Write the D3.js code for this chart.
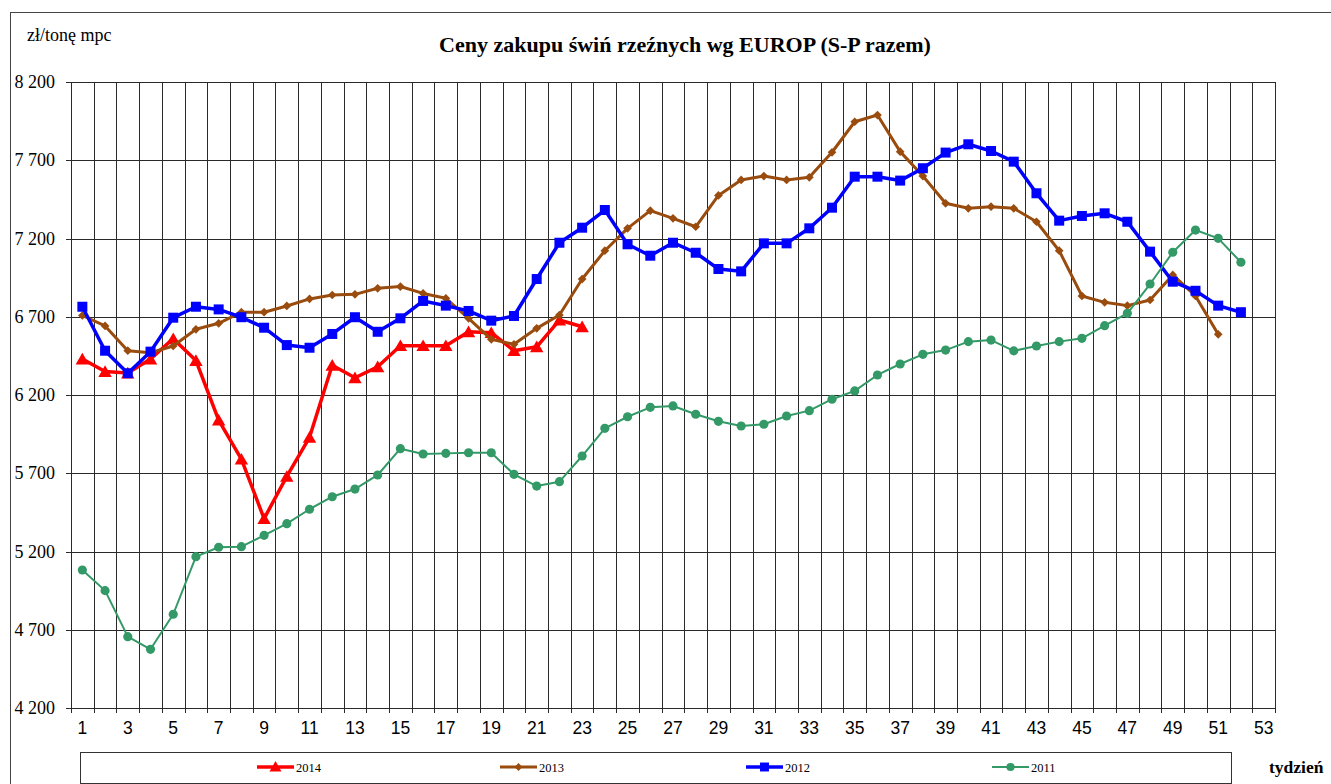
<!DOCTYPE html>
<html><head><meta charset="utf-8">
<script src="https://cdn.jsdelivr.net/npm/d3@7"></script>
<style>body{margin:0;background:#fff}svg{display:block}</style>
</head><body><svg id="c" width="1331" height="784"></svg>
<script>
// ---- data ----
const weeks = d3.range(1, 54);                 // categories 1..53
const xTickLabels = weeks.filter(w => w % 2 === 1);
const yTicks = [4200, 4700, 5200, 5700, 6200, 6700, 7200, 7700, 8200];
const seriesNames = ["2014", "2013", "2012", "2011"];
const s2014 = [6430, 6350, 6340, 6430, 6560, 6420, 6040, 5790, 5410, 5680, 5930, 6390, 6310, 6380,
  6515, 6515, 6515, 6604, 6598, 6483, 6508, 6679, 6636];
const s2013 = [6708, 6641, 6483, 6470, 6513, 6620, 6658, 6729, 6729, 6769, 6814, 6839, 6843, 6882,
  6893, 6849, 6818, 6690, 6556, 6524, 6626, 6711, 6941, 7122, 7265, 7378, 7329, 7275, 7475, 7574,
  7599, 7574, 7591, 7751, 7946, 7989, 7755, 7599, 7425, 7393, 7403, 7393, 7307, 7122, 6833, 6792,
  6771, 6807, 6967, 6833, 6588];
const s2012 = [6764, 6483, 6339, 6477, 6694, 6764, 6747, 6697, 6630, 6519, 6502, 6590, 6697, 6604,
  6690, 6801, 6771, 6737, 6675, 6705, 6941, 7173, 7269, 7382, 7163, 7090, 7173, 7109, 7005, 6990,
  7169, 7169, 7265, 7397, 7595, 7595, 7570, 7649, 7749, 7802, 7759, 7691, 7489, 7314, 7344, 7361,
  7307, 7116, 6924, 6866, 6771, 6729];
const s2011 = [5082, 4950, 4656, 4575, 4799, 5167, 5227, 5231, 5303, 5378, 5470, 5550, 5599, 5689,
  5857, 5823, 5827, 5831, 5831, 5693, 5618, 5646, 5810, 5987, 6061, 6121, 6130, 6077, 6032, 6002,
  6013, 6066, 6100, 6173, 6226, 6328, 6398, 6460, 6487, 6541, 6551, 6482, 6513, 6541, 6562, 6643,
  6722, 6909, 7112, 7254, 7201, 7048];

// ---- setup ----
const svg = d3.select("#c");
const L = 71, R = 1275, T = 82, B = 708;
const serif = "Liberation Serif, Times New Roman, serif";
const x = d3.scaleBand().domain(weeks).range([L, R]).padding(0);
const y = d3.scaleLinear().domain([4200, 8200]).range([B, T]);
const cx = w => x(w) + x.bandwidth() / 2;
const fmt = d3.formatLocale({decimal: ",", thousands: " ", grouping: [3], currency: ["", ""]}).format(",");

svg.append("rect").attr("width", 1331).attr("height", 784).attr("fill", "#fff");
// outer chart border (cropped right/bottom)
svg.append("rect").attr("x", 10.5).attr("y", 12.5).attr("width", 1340).attr("height", 800)
  .attr("fill", "none").attr("stroke", "#444").attr("stroke-width", 1);

// title & unit
svg.append("text").attr("x", 685).attr("y", 52).attr("text-anchor", "middle")
  .attr("font-family", serif).attr("font-weight", "bold")
  .attr("font-size", 22).text("Ceny zakupu świń rzeźnych wg EUROP (S-P razem)");
svg.append("text").attr("x", 27).attr("y", 41)
  .attr("font-family", serif).attr("font-size", 18).text("zł/tonę mpc");

// gridlines
const grid = svg.append("g").attr("stroke", "#2a2a2a").attr("stroke-width", 1).attr("shape-rendering", "crispEdges");
grid.selectAll("line.h").data(yTicks).join("line")
  .attr("x1", L - 5).attr("x2", R).attr("y1", d => Math.round(y(d)) + 0.5).attr("y2", d => Math.round(y(d)) + 0.5);
const bounds = weeks.map(w => x(w)).concat([R]);
grid.selectAll("line.v").data(bounds).join("line")
  .attr("x1", d => Math.round(d) + 0.5).attr("x2", d => Math.round(d) + 0.5)
  .attr("y1", T).attr("y2", B + 5);

// y labels
svg.append("g").selectAll("text").data(yTicks).join("text")
  .attr("x", 55).attr("y", d => y(d) + 6).attr("text-anchor", "end")
  .attr("font-family", serif).attr("font-size", 18)
  .text(d => fmt(d));

// x labels
const xAxis = d3.axisBottom(x).tickValues(xTickLabels).tickSize(0).tickPadding(14);
const gx = svg.append("g").attr("transform", `translate(0,${B})`).call(xAxis);
gx.select(".domain").remove();
gx.selectAll("text").attr("font-family", "Liberation Sans, Arial, sans-serif").attr("font-size", 17.5).attr("fill", "#000");

// series
const series = [
  {name: "2014", data: s2014, color: "#ff0000", width: 3.5, sym: d3.symbolTriangle, size: 78, rot: 0},
  {name: "2013", data: s2013, color: "#994c0e", width: 3, sym: d3.symbolSquare, size: 38, rot: 45},
  {name: "2012", data: s2012, color: "#0000ff", width: 3.5, sym: d3.symbolSquare, size: 100, rot: 0},
  {name: "2011", data: s2011, color: "#339966", width: 2, sym: d3.symbolCircle, size: 66, rot: 0}
];
const line = d3.line().x((d, i) => cx(i + 1)).y(d => y(d));
series.forEach(s => {
  const g = svg.append("g");
  g.append("path").datum(s.data).attr("d", line).attr("fill", "none")
    .attr("stroke", s.color).attr("stroke-width", s.width).attr("stroke-linejoin", "round");
  g.selectAll("path.m").data(s.data).join("path").attr("class", "m")
    .attr("d", d3.symbol().type(s.sym).size(s.size))
    .attr("transform", (d, i) => `translate(${cx(i + 1)},${y(d) + (s.sym === d3.symbolTriangle ? 1.5 : 0)}) rotate(${s.rot})`)
    .attr("fill", s.color);
});

// legend
svg.append("rect").attr("x", 80.5).attr("y", 752.5).attr("width", 1151).attr("height", 31)
  .attr("fill", "#fff").attr("stroke", "#333").attr("stroke-width", 1);
const legX = [257, 500, 746, 992];
series.forEach((s, i) => {
  const g = svg.append("g").attr("transform", `translate(${legX[i]},767)`);
  g.append("line").attr("x1", 0).attr("x2", 37).attr("stroke", s.color).attr("stroke-width", s.width);
  g.append("path").attr("d", d3.symbol().type(s.sym).size(s.size * 0.8))
    .attr("transform", `translate(18.5,${s.sym === d3.symbolTriangle ? 1 : 0}) rotate(${s.rot})`).attr("fill", s.color);
  g.append("text").attr("x", 39).attr("y", 4.5).attr("font-family", serif)
    .attr("font-size", 12.5).text(s.name);
});
svg.append("text").attr("x", 1269).attr("y", 773).attr("font-family", serif)
  .attr("font-weight", "bold").attr("font-size", 17.5).text("tydzień");
</script></body></html>
